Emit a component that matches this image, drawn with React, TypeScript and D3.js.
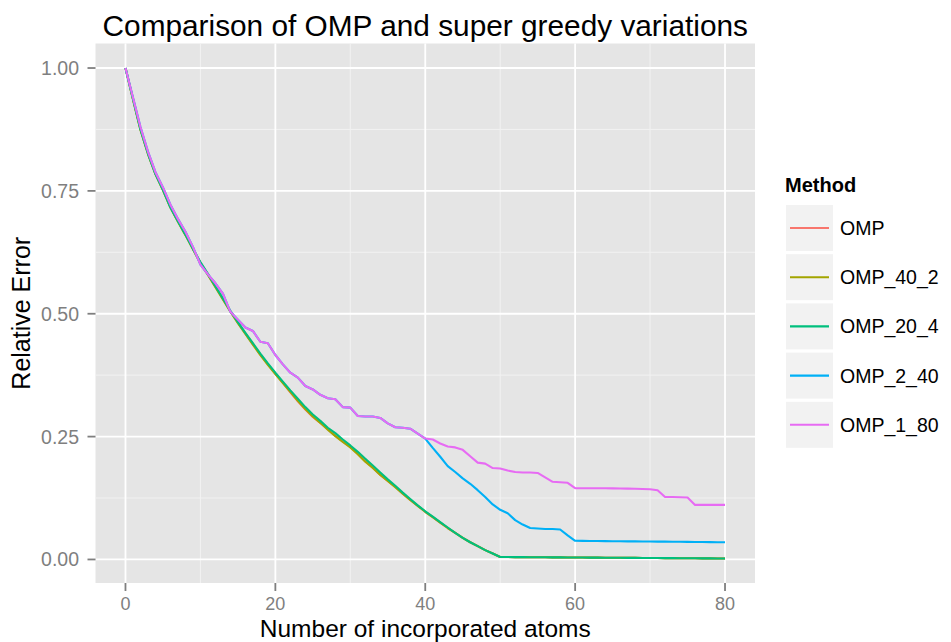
import React from "react";
import * as d3 from "d3";

const atoms: number[] = d3.range(0, 81);

const methods = ["OMP", "OMP_40_2", "OMP_20_4", "OMP_2_40", "OMP_1_80"];
const colors = ["#F8766D", "#A3A500", "#00BF7D", "#00B0F6", "#E76BF3"];

const omp = [
  1.000, 0.937, 0.875, 0.826, 0.784, 0.752, 0.716, 0.688, 0.661, 0.632,
  0.604, 0.580, 0.555, 0.530, 0.505, 0.482, 0.460, 0.438, 0.417, 0.397,
  0.378, 0.360, 0.340, 0.322, 0.305, 0.290, 0.278, 0.265, 0.252, 0.240,
  0.229, 0.215, 0.200, 0.187, 0.172, 0.160, 0.148, 0.134, 0.121, 0.109,
  0.097, 0.086, 0.075, 0.064, 0.054, 0.044, 0.035, 0.027, 0.019, 0.012,
  0.0050, 0.0049, 0.0048, 0.0047, 0.0046, 0.0045, 0.0044, 0.0043, 0.0042, 0.0041,
  0.0040, 0.0039, 0.0038, 0.0037, 0.0036, 0.0035, 0.0034, 0.0033, 0.0032, 0.0031,
  0.0030, 0.0029, 0.0028, 0.0027, 0.0026, 0.0025, 0.0024, 0.0023, 0.0022, 0.0021, 0.0020,
];

const omp40x2 = [
  1.000, 0.936, 0.874, 0.825, 0.784, 0.751, 0.716, 0.687, 0.660, 0.631,
  0.603, 0.579, 0.554, 0.529, 0.504, 0.481, 0.459, 0.437, 0.416, 0.396,
  0.377, 0.359, 0.341, 0.323, 0.306, 0.291, 0.278, 0.264, 0.251, 0.239,
  0.228, 0.214, 0.199, 0.186, 0.172, 0.160, 0.147, 0.134, 0.121, 0.109,
  0.097, 0.086, 0.075, 0.064, 0.054, 0.044, 0.035, 0.027, 0.019, 0.012,
  0.0050, 0.0049, 0.0048, 0.0047, 0.0046, 0.0045, 0.0044, 0.0043, 0.0042, 0.0041,
  0.0040, 0.0039, 0.0038, 0.0037, 0.0036, 0.0035, 0.0034, 0.0033, 0.0032, 0.0031,
  0.0030, 0.0029, 0.0028, 0.0027, 0.0026, 0.0025, 0.0024, 0.0023, 0.0022, 0.0021, 0.0020,
];

const omp20x4 = [
  1.000, 0.937, 0.875, 0.826, 0.784, 0.752, 0.716, 0.688, 0.661, 0.632,
  0.605, 0.581, 0.556, 0.531, 0.506, 0.483, 0.461, 0.440, 0.419, 0.399,
  0.380, 0.362, 0.344, 0.327, 0.310, 0.295, 0.282, 0.268, 0.257, 0.244,
  0.232, 0.219, 0.205, 0.191, 0.177, 0.163, 0.150, 0.136, 0.123, 0.110,
  0.098, 0.087, 0.076, 0.065, 0.054, 0.044, 0.035, 0.027, 0.019, 0.012,
  0.0050, 0.0049, 0.0048, 0.0047, 0.0046, 0.0045, 0.0044, 0.0043, 0.0042, 0.0041,
  0.0040, 0.0039, 0.0038, 0.0037, 0.0036, 0.0035, 0.0034, 0.0033, 0.0032, 0.0031,
  0.0030, 0.0029, 0.0028, 0.0027, 0.0026, 0.0025, 0.0024, 0.0023, 0.0022, 0.0021, 0.0020,
];

const omp2x40 = [
  1.000, 0.940, 0.880, 0.830, 0.788, 0.757, 0.722, 0.693, 0.667, 0.636,
  0.600, 0.580, 0.562, 0.541, 0.504, 0.488, 0.472, 0.465, 0.443, 0.440,
  0.416, 0.397, 0.380, 0.370, 0.353, 0.346, 0.335, 0.328, 0.326, 0.310,
  0.309, 0.292, 0.291, 0.291, 0.288, 0.277, 0.269, 0.268, 0.266, 0.256,
  0.246, 0.227, 0.209, 0.190, 0.178, 0.165, 0.154, 0.141, 0.127, 0.112,
  0.101, 0.094, 0.080, 0.071, 0.064, 0.063, 0.062, 0.062, 0.061, 0.049,
  0.0380, 0.0378, 0.0377, 0.0375, 0.0374, 0.0372, 0.0371, 0.0369, 0.0368, 0.0366,
  0.0365, 0.0363, 0.0362, 0.0360, 0.0359, 0.0357, 0.0356, 0.0354, 0.0353, 0.0351, 0.0350,
];

const omp1x80 = [
  1.000, 0.940, 0.880, 0.830, 0.788, 0.757, 0.722, 0.693, 0.667, 0.636,
  0.600, 0.580, 0.562, 0.541, 0.504, 0.488, 0.472, 0.465, 0.443, 0.440,
  0.416, 0.397, 0.380, 0.370, 0.353, 0.346, 0.335, 0.328, 0.326, 0.310,
  0.309, 0.292, 0.291, 0.291, 0.288, 0.277, 0.269, 0.268, 0.266, 0.256,
  0.246, 0.244, 0.236, 0.230, 0.228, 0.223, 0.210, 0.197, 0.195, 0.186,
  0.185, 0.181, 0.178, 0.177, 0.177, 0.176, 0.167, 0.158, 0.157, 0.156,
  0.145, 0.145, 0.145, 0.145, 0.1448, 0.1446, 0.1444, 0.1442, 0.1440, 0.1435,
  0.1430, 0.141, 0.127, 0.127, 0.1265, 0.126, 0.111, 0.111, 0.111, 0.111, 0.111,
];

const seriesValues = [omp, omp40x2, omp20x4, omp2x40, omp1x80];

const xTicks = [0, 20, 40, 60, 80];
const xMinor = [10, 30, 50, 70];
const yTicks = [0, 0.25, 0.5, 0.75, 1.0];
const yTickLabels = ["0.00", "0.25", "0.50", "0.75", "1.00"];
const yMinor = [0.125, 0.375, 0.625, 0.875];

const FONT = "'Liberation Sans', Arial, Helvetica, sans-serif";

export default function App() {
  const W = 951;
  const H = 642;
  const panel = { left: 95.5, right: 755, top: 43.5, bottom: 583 };

  const xExt = d3.extent(atoms) as [number, number];
  const xPad = (xExt[1] - xExt[0]) * 0.05;
  const all = seriesValues.flat();
  const yExt = d3.extent(all) as [number, number];
  const yPad = (yExt[1] - yExt[0]) * 0.05;

  const x = d3.scaleLinear().domain([xExt[0] - xPad, xExt[1] + xPad]).range([panel.left, panel.right]);
  const y = d3.scaleLinear().domain([yExt[0] - yPad, yExt[1] + yPad]).range([panel.bottom, panel.top]);

  const line = d3
    .line<number>()
    .x((_, i) => x(atoms[i]))
    .y((d) => y(d));

  const legendX = 786;
  const legendY0 = 205;
  const keyStep = 49.2;
  const keySize = 46;

  return (
    <svg
      width={W}
      height={H}
      style={{ position: "absolute", left: 0, top: 0, background: "#fff" }}
      fontFamily={FONT}
    >
      <rect x={0} y={0} width={W} height={H} fill="#fff" />
      <rect
        x={panel.left}
        y={panel.top}
        width={panel.right - panel.left}
        height={panel.bottom - panel.top}
        fill="#E5E5E5"
      />
      {xMinor.map((t) => (
        <line key={"xm" + t} x1={x(t)} x2={x(t)} y1={panel.top} y2={panel.bottom} stroke="#F2F2F2" strokeWidth={1} />
      ))}
      {yMinor.map((t) => (
        <line key={"ym" + t} x1={panel.left} x2={panel.right} y1={y(t)} y2={y(t)} stroke="#F2F2F2" strokeWidth={1} />
      ))}
      {xTicks.map((t) => (
        <line key={"xM" + t} x1={x(t)} x2={x(t)} y1={panel.top} y2={panel.bottom} stroke="#FFFFFF" strokeWidth={1.8} />
      ))}
      {yTicks.map((t) => (
        <line key={"yM" + t} x1={panel.left} x2={panel.right} y1={y(t)} y2={y(t)} stroke="#FFFFFF" strokeWidth={1.8} />
      ))}

      <g>
        {seriesValues.map((vals, i) => (
          <path
            key={methods[i]}
            d={line(vals) || ""}
            fill="none"
            stroke={colors[i]}
            strokeWidth={2.1}
            strokeLinejoin="round"
            strokeLinecap="butt"
          />
        ))}
      </g>

      {xTicks.map((t) => (
        <g key={"xt" + t}>
          <line x1={x(t)} x2={x(t)} y1={panel.bottom} y2={panel.bottom + 8} stroke="#7F7F7F" strokeWidth={1.8} />
          <text x={x(t)} y={610} textAnchor="middle" fontSize={18} fill="#7F7F7F">
            {String(t)}
          </text>
        </g>
      ))}
      {yTicks.map((t, i) => (
        <g key={"yt" + t}>
          <line x1={panel.left - 8} x2={panel.left} y1={y(t)} y2={y(t)} stroke="#7F7F7F" strokeWidth={1.8} />
          <text x={79} y={y(t)} dy="0.36em" textAnchor="end" fontSize={19.5} fill="#7F7F7F">
            {yTickLabels[i]}
          </text>
        </g>
      ))}

      <text x={(panel.left + panel.right) / 2} y={36} textAnchor="middle" fontSize={29.8} fill="#000">
        Comparison of OMP and super greedy variations
      </text>
      <text x={(panel.left + panel.right) / 2} y={636.8} textAnchor="middle" fontSize={24.5} fill="#000">
        Number of incorporated atoms
      </text>
      <text
        transform={`translate(30,${(panel.top + panel.bottom) / 2}) rotate(-90)`}
        textAnchor="middle"
        fontSize={25}
        fill="#000"
      >
        Relative Error
      </text>

      <text x={785} y={192} fontSize={20} fontWeight="bold" fill="#000">
        Method
      </text>
      {methods.map((m, i) => {
        const ky = legendY0 + i * keyStep;
        return (
          <g key={"lg" + m}>
            <rect x={legendX} y={ky} width={47} height={keySize} fill="#F2F2F2" />
            <line
              x1={legendX + 4}
              x2={legendX + 43}
              y1={ky + keySize / 2}
              y2={ky + keySize / 2}
              stroke={colors[i]}
              strokeWidth={2.1}
            />
            <text x={840} y={ky + keySize / 2} dy="0.36em" fontSize={19.5} fill="#000">
              {m}
            </text>
          </g>
        );
      })}
    </svg>
  );
}
